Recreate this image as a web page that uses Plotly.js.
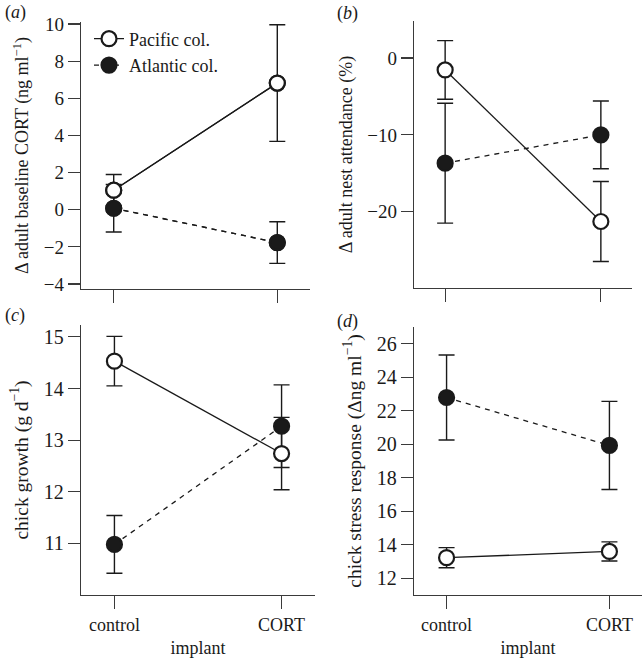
<!DOCTYPE html>
<html>
<head>
<meta charset="utf-8">
<script src="https://cdn.plot.ly/plotly-3.0.1.min.js"></script>
<style>html,body{margin:0;padding:0;background:#fff;}#chart{width:643px;height:658px;}</style>
</head>
<body>
<div id="chart"></div>
<script>
// ---- data ----
const categories = ['control', 'CORT'];

// (a) Δ adult baseline CORT (ng ml-1)
const aPacific = [1.05, 6.82];
const aPacificErr = [0.85, 3.14];
const aAtlantic = [0.08, -1.77];
const aAtlanticErr = [1.28, 1.12];
const aTicks = [-4, -2, 0, 2, 4, 6, 8, 10];

// (b) Δ adult nest attendance (%)
const bPacific = [-1.56, -21.26];
const bPacificErr = [3.81, 5.2];
const bAtlantic = [-13.68, -10.0];
const bAtlanticErr = [7.79, 4.41];
const bTicks = [-20, -10, 0];

// (c) chick growth (g d-1)
const cPacific = [14.53, 12.74];
const cPacificErr = [0.48, 0.7];
const cAtlantic = [10.98, 13.27];
const cAtlanticErr = [0.56, 0.8];
const cTicks = [11, 12, 13, 14, 15];

// (d) chick stress response (Δ ng ml-1)
const dPacific = [13.23, 13.6];
const dPacificErr = [0.6, 0.57];
const dAtlantic = [22.79, 19.93];
const dAtlanticErr = [2.54, 2.63];
const dTicks = [12, 14, 16, 18, 20, 22, 24, 26];

const seriesNames = ['Pacific col.', 'Atlantic col.'];

// ---- styling ----
const FONT = '"Liberation Serif", "Times New Roman", "DejaVu Serif", serif';
const INK = '#1a1a1a';
const AXC = '#3a3a3a';

function errTrace(xa, ya, y, err) {
  return {
    x: categories, y: y, xaxis: xa, yaxis: ya, type: 'scatter', mode: 'markers',
    marker: {size: 1, opacity: 0}, showlegend: false, hoverinfo: 'skip',
    error_y: {type: 'data', array: err, visible: true, color: INK, thickness: 1.4, width: 8}
  };
}
function seriesTrace(xa, ya, y, idx, show) {
  const pac = idx === 0;
  return {
    x: categories, y: y, xaxis: xa, yaxis: ya, type: 'scatter', mode: 'lines+markers',
    name: seriesNames[idx], showlegend: show, legendgroup: seriesNames[idx],
    line: {color: INK, width: 1.3, dash: pac ? 'solid' : '5px,5px'},
    marker: {size: 15, color: pac ? '#ffffff' : INK, line: {color: INK, width: 2.2}}
  };
}

const traces = [
  errTrace('x', 'y', aAtlantic, aAtlanticErr), errTrace('x', 'y', aPacific, aPacificErr),
  seriesTrace('x', 'y', aAtlantic, 1, false), seriesTrace('x', 'y', aPacific, 0, false),
  errTrace('x2', 'y2', bAtlantic, bAtlanticErr), errTrace('x2', 'y2', bPacific, bPacificErr),
  seriesTrace('x2', 'y2', bAtlantic, 1, false), seriesTrace('x2', 'y2', bPacific, 0, false),
  errTrace('x3', 'y3', cAtlantic, cAtlanticErr), errTrace('x3', 'y3', cPacific, cPacificErr),
  seriesTrace('x3', 'y3', cAtlantic, 1, false), seriesTrace('x3', 'y3', cPacific, 0, false),
  errTrace('x4', 'y4', dAtlantic, dAtlanticErr), errTrace('x4', 'y4', dPacific, dPacificErr),
  seriesTrace('x4', 'y4', dAtlantic, 1, false), seriesTrace('x4', 'y4', dPacific, 0, false)
];
// legend entries (Pacific first)
traces.push(seriesTrace('x', 'y', aPacific, 0, true));
traces.push(seriesTrace('x', 'y', aAtlantic, 1, true));

const W = 643, H = 658;
function dx(a, b) { return [a / W, b / W]; }
function dy(top, bot) { return [1 - bot / H, 1 - top / H]; }

function xAxis(dom, anchor, showLabels, title) {
  const ax = {
    domain: dom, anchor: anchor, type: 'category', range: [-0.2, 1.2],
    showline: true, linecolor: AXC, linewidth: 1.2, showgrid: false, zeroline: false,
    ticks: 'outside', ticklen: 13, tickwidth: 1.2, tickcolor: AXC,
    showticklabels: showLabels, tickfont: {family: FONT, size: 18, color: INK}
  };
  if (title) ax.title = {text: title, font: {family: FONT, size: 18, color: INK}, standoff: 8};
  return ax;
}
function yAxis(dom, anchor, range, ticks, title, tsize, fsize) {
  return {
    domain: dom, anchor: anchor, range: range,
    showline: true, linecolor: AXC, linewidth: 1.2, showgrid: false, zeroline: false,
    ticks: 'outside', ticklen: 12, tickwidth: 1.2, tickcolor: AXC,
    tickvals: ticks, tickfont: {family: FONT, size: tsize, color: INK},
    title: {text: title, font: {family: FONT, size: fsize, color: INK}, standoff: 10}
  };
}

const layout = {
  width: W, height: H, margin: {l: 0, r: 0, t: 0, b: 0},
  paper_bgcolor: '#fff', plot_bgcolor: '#fff',
  font: {family: FONT, size: 18, color: INK},
  xaxis: xAxis(dx(81, 310), 'y', false),
  yaxis: yAxis(dy(22, 289), 'x', [-4.27, 10.11], aTicks, 'Δ adult baseline CORT (ng ml<sup>−1</sup>)', 19, 18),
  xaxis2: xAxis(dx(414, 632), 'y2', false),
  yaxis2: yAxis(dy(21, 288), 'x2', [-29.9, 4.8], bTicks, 'Δ adult nest attendance (%)', 19, 18),
  xaxis3: xAxis(dx(81, 315), 'y3', true, 'implant'),
  yaxis3: yAxis(dy(325, 595), 'x3', [10.0, 15.23], cTicks, 'chick growth (g d<sup>−1</sup>)', 20, 19.5),
  xaxis4: xAxis(dx(414, 642), 'y4', true, 'implant'),
  yaxis4: yAxis(dy(327, 595), 'x4', [11.0, 27.0], dTicks, 'chick stress response (Δng ml<sup>−1</sup>)', 20, 19.5),
  showlegend: true,
  legend: {x: 89 / W, y: 1 - 20.5 / H, xanchor: 'left', yanchor: 'top', bgcolor: 'rgba(0,0,0,0)',
           font: {family: FONT, size: 18, color: INK}, tracegroupgap: 0, itemsizing: 'trace'},
  annotations: [
    {text: '(<i>a</i>)', x: 3 / W, y: 1 - 13 / H},
    {text: '(<i>b</i>)', x: 335 / W, y: 1 - 13.5 / H},
    {text: '(<i>c</i>)', x: 3 / W, y: 1 - 315.5 / H},
    {text: '(<i>d</i>)', x: 335 / W, y: 1 - 321 / H}
  ].map(a => Object.assign(a, {xref: 'paper', yref: 'paper', xanchor: 'left', yanchor: 'middle',
    showarrow: false, font: {family: FONT, size: 18, color: INK}}))
};

Plotly.newPlot('chart', traces, layout, {staticPlot: true, displayModeBar: false});
</script>
</body>
</html>
